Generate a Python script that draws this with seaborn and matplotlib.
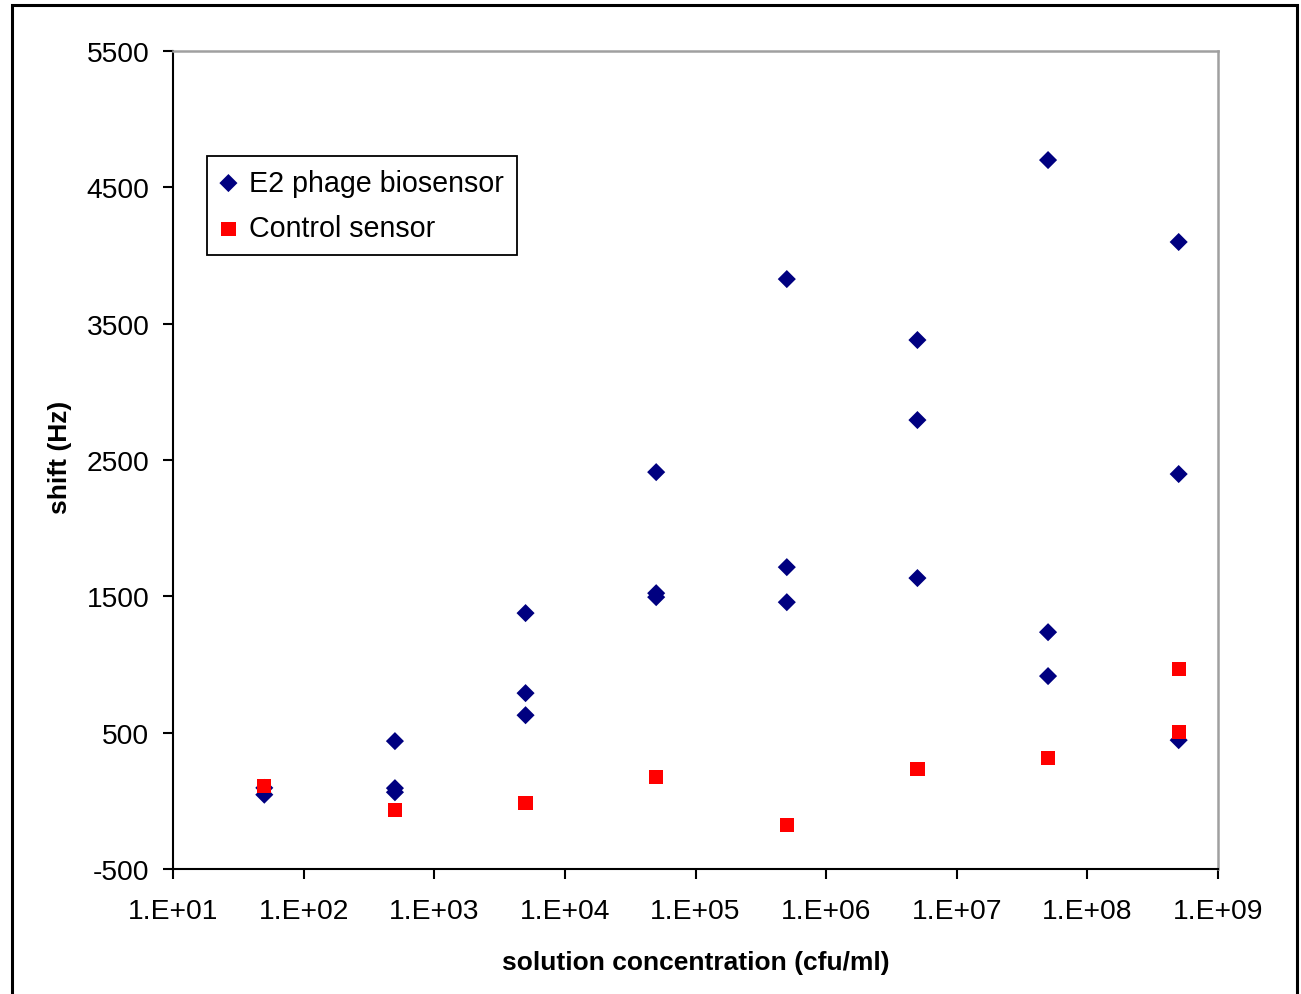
"""Frequency shift vs. solution concentration for phage and control sensors."""

import matplotlib

matplotlib.use("Agg")

import matplotlib.pyplot as plt  # noqa: E402
import numpy as np  # noqa: E402
import pandas as pd  # noqa: E402
import seaborn as sns  # noqa: E402
from matplotlib.patches import Rectangle  # noqa: E402
from matplotlib.ticker import FixedLocator, FuncFormatter, NullLocator  # noqa: E402

# data
e2_conc = [5e1, 5e1, 5e2, 5e2, 5e2, 5e3, 5e3, 5e3, 5e4, 5e4, 5e4,
           5e5, 5e5, 5e5, 5e6, 5e6, 5e6, 5e7, 5e7, 5e7, 5e8, 5e8, 5e8]
e2_shift = [95, 45, 438, 93, 63, 1377, 790, 628, 2411, 1523, 1494,
            3827, 1714, 1457, 3380, 2793, 1634, 4700, 1237, 915, 4099, 2397, 445]
ctrl_conc = [5e1, 5e2, 5e3, 5e4, 5e5, 5e6, 5e7, 5e8, 5e8]
ctrl_shift = [108, -69, -17, 174, -179, 232, 313, 966, 504]

y_ticks = [-500, 500, 1500, 2500, 3500, 4500, 5500]
x_ticks = [1e1, 1e2, 1e3, 1e4, 1e5, 1e6, 1e7, 1e8, 1e9]

E2_LABEL = "E2 phage biosensor"
CTRL_LABEL = "Control sensor"

sns.set_style("white")
plt.rcParams["font.family"] = ["Liberation Sans", "DejaVu Sans"]
plt.rcParams["axes.unicode_minus"] = False
plt.rcParams["text.color"] = "black"
plt.rcParams["axes.labelcolor"] = "black"
plt.rcParams["xtick.color"] = "black"
plt.rcParams["ytick.color"] = "black"

e2_df = pd.DataFrame({"conc": e2_conc, "shift": e2_shift})
ctrl_df = pd.DataFrame({"conc": ctrl_conc, "shift": ctrl_shift})

fig = plt.figure(figsize=(13.01, 9.95), dpi=100)
ax = fig.add_axes([173 / 1301, 1 - 870 / 995, 1045 / 1301, 818 / 995])

sns.scatterplot(data=e2_df, x="conc", y="shift", marker="D", s=85,
                color="#000080", edgecolor="none", label=E2_LABEL, ax=ax)
sns.scatterplot(data=ctrl_df, x="conc", y="shift", marker="s", s=105,
                color="#ff0000", edgecolor="none", label=CTRL_LABEL, ax=ax)

ax.set_xscale("log")
ax.set_xlim(1e1, 1e9)
ax.set_ylim(-500, 5500)
ax.xaxis.set_major_locator(FixedLocator(x_ticks))
ax.xaxis.set_minor_locator(NullLocator())
ax.xaxis.set_major_formatter(FuncFormatter(lambda v, _: f"1.E+{int(round(np.log10(v))):02d}"))
ax.set_yticks(y_ticks)

ax.tick_params(axis="both", which="major", direction="out", length=7, width=1.5,
               color="black", labelcolor="black", labelsize=20.3, left=True, bottom=True)
ax.tick_params(axis="x", pad=14)
ax.tick_params(axis="y", pad=10)

for side in ("left", "bottom"):
    ax.spines[side].set_color("black")
    ax.spines[side].set_linewidth(1.5)
for side in ("top", "right"):
    ax.spines[side].set_color("#a0a0a0")
    ax.spines[side].set_linewidth(1.8)

ax.set_xlabel("solution concentration (cfu/ml)", fontsize=19, fontweight="bold", va="top")
ax.xaxis.set_label_coords(0.5, -0.099)
ax.set_ylabel("shift (Hz)", fontsize=19, fontweight="bold")
ax.yaxis.set_label_coords(-0.097, 0.504)

leg = ax.legend(loc="upper left", bbox_to_anchor=(0.0325, 0.872), borderaxespad=0,
                fontsize=20.6, frameon=True, fancybox=False, framealpha=1,
                edgecolor="black", handlelength=0.6, handletextpad=0.42,
                borderpad=0.45, labelspacing=0.62)
leg.get_frame().set_linewidth(1.3)

# outer chart-area border (runs off the bottom edge in the reference)
fig.patches.append(Rectangle((12 / 1301, -0.05), 1285 / 1301, 1.05 - 6 / 995,
                             transform=fig.transFigure, fill=False,
                             edgecolor="black", linewidth=2.2))

fig.savefig("out.png", dpi=100)
